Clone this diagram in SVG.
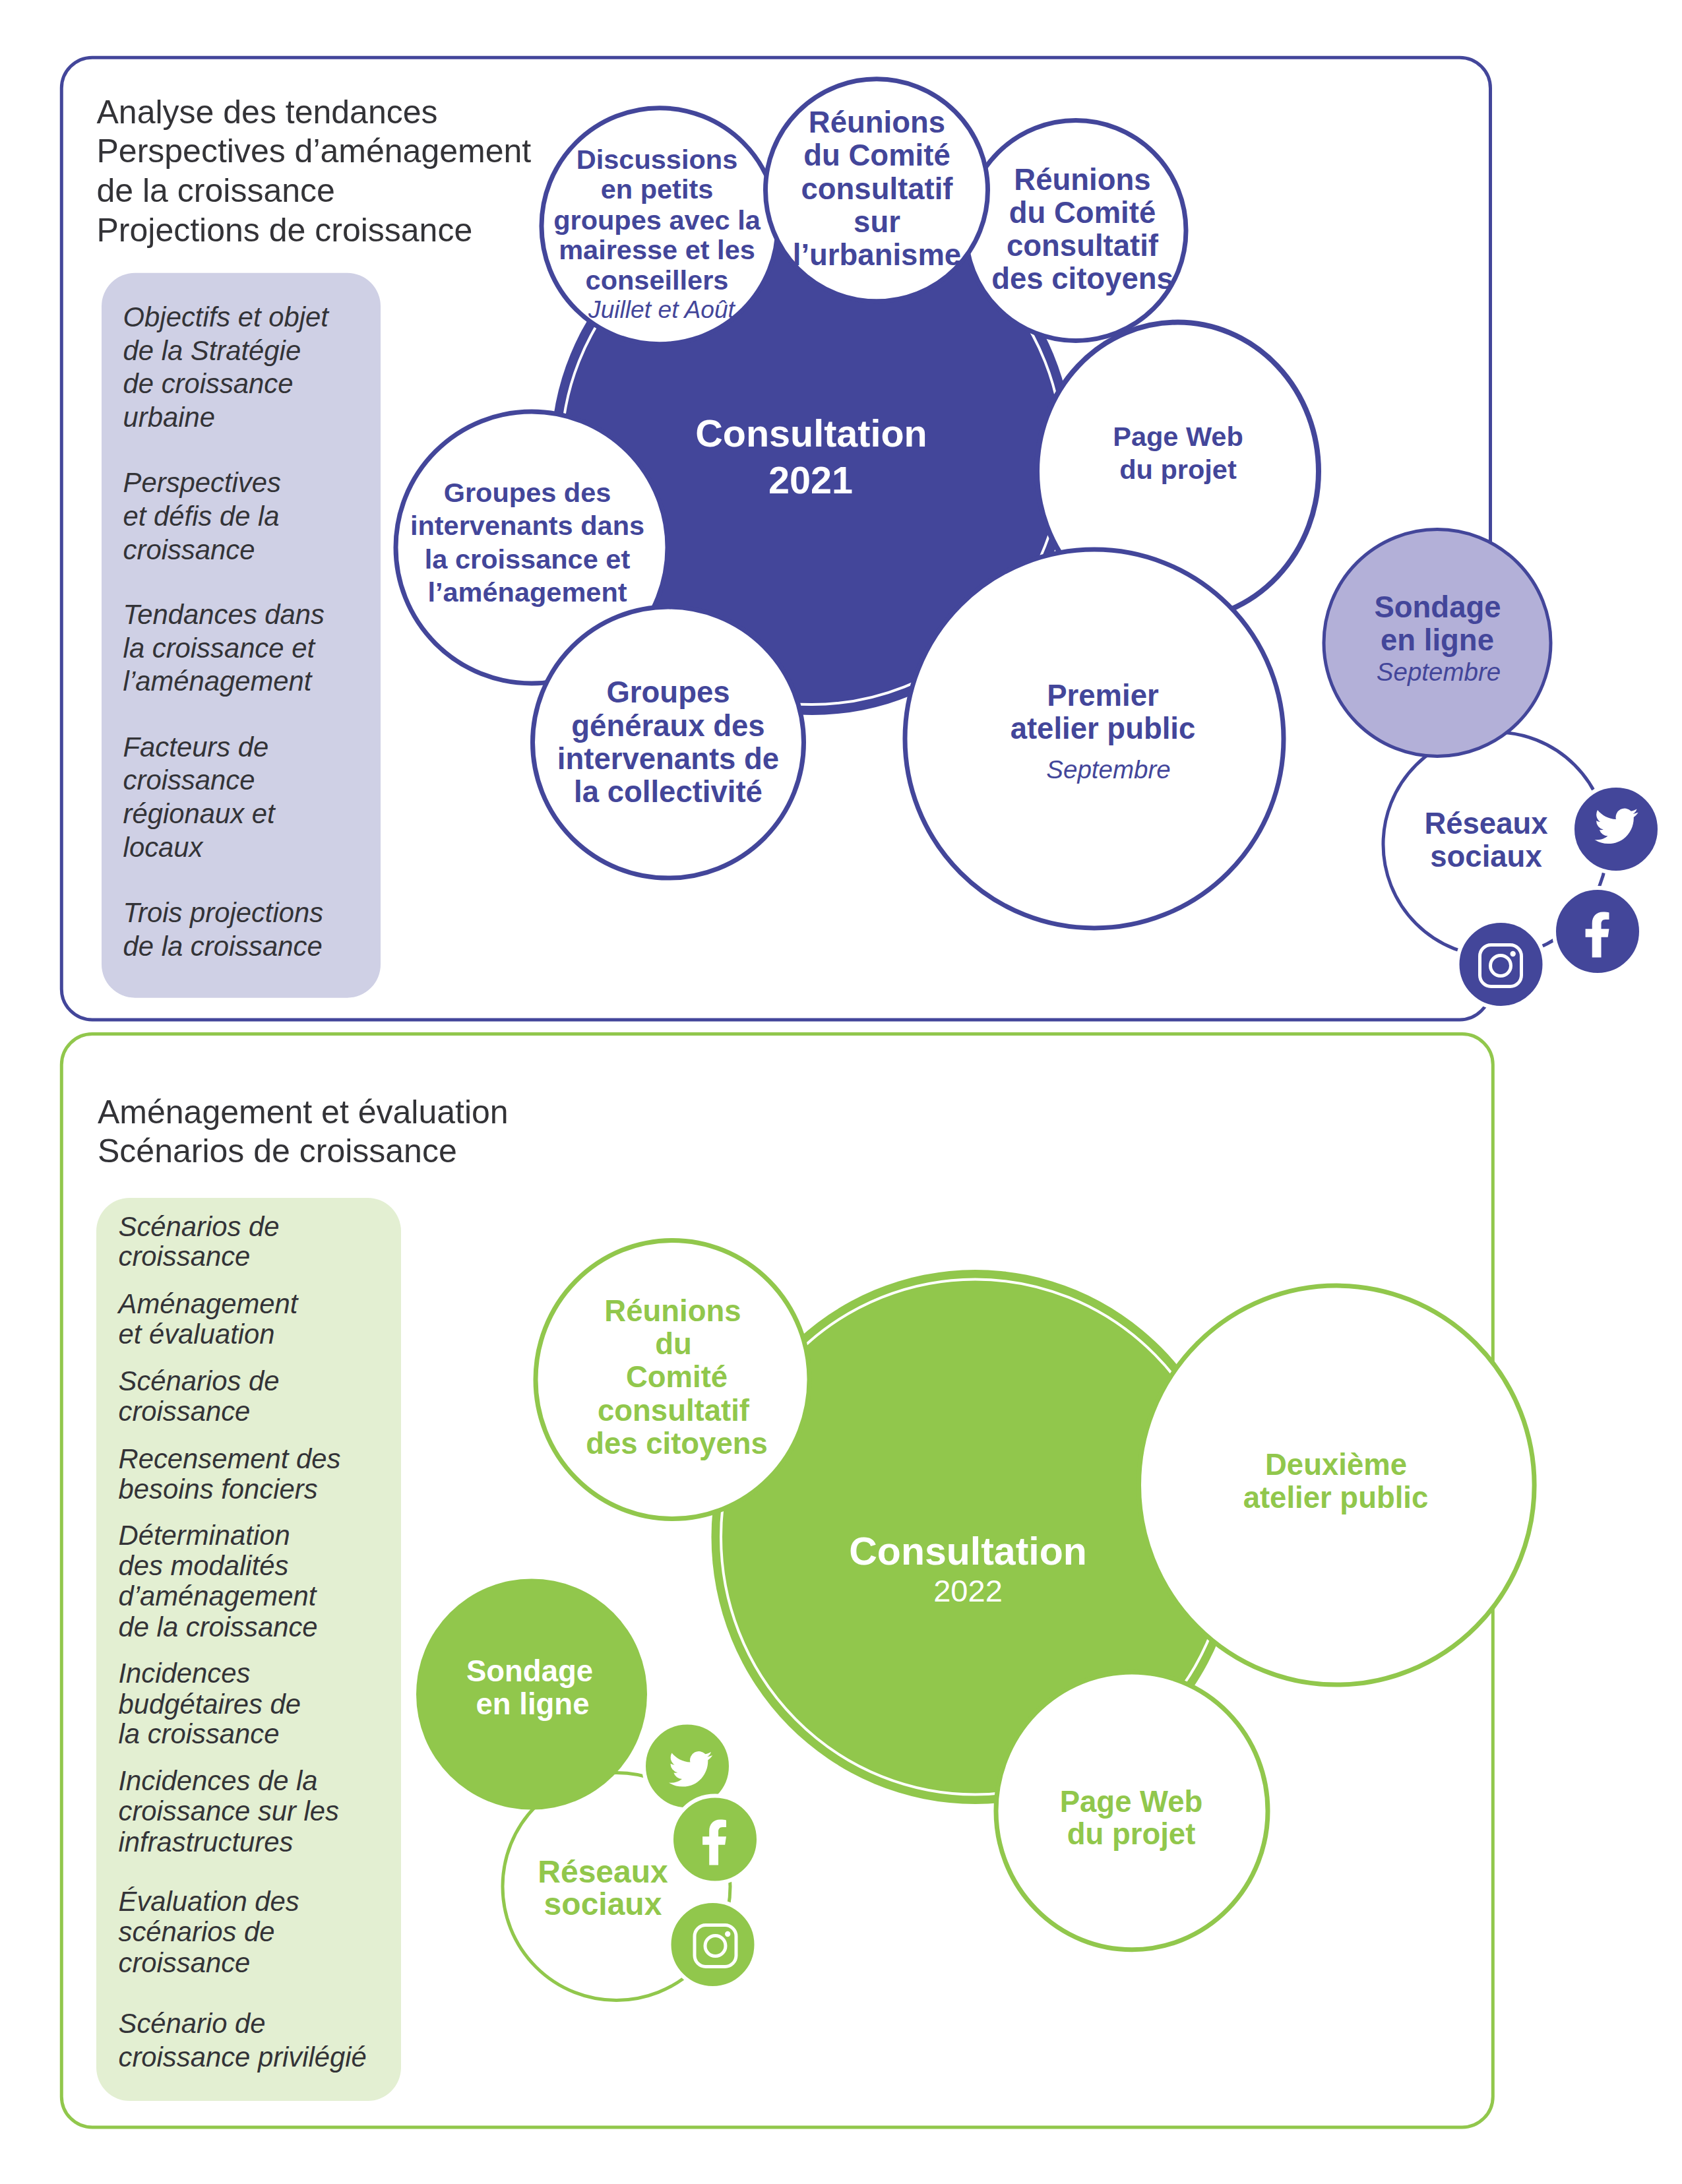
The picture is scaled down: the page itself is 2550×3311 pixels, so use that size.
<svg xmlns="http://www.w3.org/2000/svg" width="2550" height="3311" viewBox="0 0 2550 3311">
<style>
text{font-family:"Liberation Sans",Arial,sans-serif}
.m{text-anchor:middle}
.b{font-weight:700}
.i{font-style:italic}
.bl{fill:#43469a}
.gr{fill:#91c74c}
.w{fill:#fff}
.d{fill:#333337}
.h{font-size:50px}
.l{font-size:41.800px;font-style:italic}
.f41{font-size:41.500px;font-weight:700;text-anchor:middle}
.f45{font-size:45.500px;font-weight:700;text-anchor:middle}
.cb{fill:#fff;stroke:#43469a;stroke-width:7}
.cg{fill:#fff;stroke:#91c74c;stroke-width:7}
.hb{fill:#43469a;stroke:#fff;stroke-width:6}
.hg{fill:#91c74c;stroke:#fff;stroke-width:6}
</style>
<defs>
<g id="tw"><path fill="#fff" transform="translate(-33,-32.700) scale(2.750)" d="M23.953 4.57a10 10 0 01-2.825.775 4.958 4.958 0 002.163-2.723c-.951.555-2.005.959-3.127 1.184a4.92 4.92 0 00-8.384 4.482C7.69 8.095 4.067 6.13 1.64 3.162a4.822 4.822 0 00-.666 2.475c0 1.71.87 3.213 2.188 4.096a4.904 4.904 0 01-2.228-.616v.06a4.923 4.923 0 003.946 4.827 4.996 4.996 0 01-2.212.085 4.936 4.936 0 004.604 3.417 9.867 9.867 0 01-6.102 2.105c-.39 0-.779-.023-1.17-.067a13.995 13.995 0 007.557 2.209c9.053 0 13.998-7.496 13.998-13.985 0-.21 0-.42-.015-.63A9.935 9.935 0 0024 4.59z"/></g>
<g id="fb"><path fill="#fff" transform="scale(.92,.96)" d="M6 36V4H17L19-9H6V-17C6-21 8-24 13-24H19V-35C17-35.500 13-36 9-36C-2-36-9-29-9-18V-9H-20V4H-9V36Z"/></g>
<g id="ig"><rect x="-31.500" y="-31.500" width="63" height="63" rx="17" fill="none" stroke="#fff" stroke-width="5"/><circle r="15.500" fill="none" stroke="#fff" stroke-width="5"/><circle cx="18.700" cy="-18" r="4.200" fill="#fff"/></g>
</defs>
<rect width="2550" height="3311" fill="#fff"/>

<g id="panel-2021">
<rect x="93.300" y="87.200" width="2166.200" height="1458.800" rx="46.600" fill="#fff" stroke="#43469a" stroke-width="5"/>
<text class="h d"><tspan x="146.500" y="186.500">Analyse des tendances</tspan><tspan x="146.500" y="245.500">Perspectives d’aménagement</tspan><tspan x="146.500" y="306">de la croissance</tspan><tspan x="146.500" y="366">Projections de croissance</tspan></text>
</g>
<g id="liste-2021">
<rect x="154" y="413.700" width="423" height="1099" rx="50.700" fill="#cfd0e5"/>
<text class="l d"><tspan x="186.600" y="495">Objectifs et objet</tspan><tspan x="186.600" y="545.500">de la Stratégie</tspan><tspan x="186.600" y="596">de croissance</tspan><tspan x="186.600" y="647">urbaine</tspan><tspan x="186.600" y="746">Perspectives</tspan><tspan x="186.600" y="797">et défis de la</tspan><tspan x="186.600" y="847.500">croissance</tspan><tspan x="186.600" y="946">Tendances dans</tspan><tspan x="186.600" y="996.700">la croissance et</tspan><tspan x="186.600" y="1047.400">l’aménagement</tspan><tspan x="186.600" y="1146.700">Facteurs de</tspan><tspan x="186.600" y="1197.400">croissance</tspan><tspan x="186.600" y="1248">régionaux et</tspan><tspan x="186.600" y="1298.800">locaux</tspan><tspan x="186.600" y="1398">Trois projections</tspan><tspan x="186.600" y="1449">de la croissance</tspan></text>
</g>
<g id="consultation-2021">
<circle cx="1231" cy="688" r="396" fill="#43469a"/>
<circle cx="1231" cy="688" r="380" fill="none" stroke="#fff" stroke-width="4"/>
<text class="m b w" font-size="57.500"><tspan x="1230" y="676.500">Consultation</tspan><tspan x="1229" y="748">2021</tspan></text>
</g>
<g id="comite-citoyens-2021">
<circle class="cb" cx="1631" cy="349.500" r="167"/>
<text class="f45 bl"><tspan x="1641" y="288">Réunions</tspan><tspan x="1641" y="338">du Comité</tspan><tspan x="1641" y="388">consultatif</tspan><tspan x="1641" y="438">des citoyens</tspan></text>
</g>
<g id="page-web-2021">
<ellipse class="cb" style="stroke-width:8" cx="1785.500" cy="714.500" rx="213.500" ry="226"/>
<text class="f41 bl"><tspan x="1786" y="675.500">Page Web</tspan><tspan x="1786" y="725.500">du projet</tspan></text>
</g>
<g id="discussions">
<circle class="cb" cx="1000" cy="342.700" r="179"/>
<text class="f41 bl"><tspan x="996" y="256">Discussions</tspan><tspan x="996" y="301">en petits</tspan><tspan x="996" y="347.500">groupes avec la</tspan><tspan x="996" y="393">mairesse et les</tspan><tspan x="996" y="439">conseillers</tspan></text>
<text class="m i bl" x="1003" y="481.500" font-size="37.200">Juillet et Août</text>
</g>
<g id="comite-urbanisme">
<circle class="cb" cx="1329" cy="288.300" r="168.500"/>
<text class="f45 bl"><tspan x="1329.500" y="201">Réunions</tspan><tspan x="1329.500" y="251">du Comité</tspan><tspan x="1329.500" y="302">consultatif</tspan><tspan x="1329.500" y="352">sur</tspan><tspan x="1329.500" y="402">l’urbanisme</tspan></text>
</g>
<g id="groupes-intervenants">
<circle class="cb" cx="806" cy="830" r="206"/>
<text class="f41 bl"><tspan x="799.500" y="761">Groupes des</tspan><tspan x="799.500" y="811">intervenants dans</tspan><tspan x="799.500" y="862">la croissance et</tspan><tspan x="799.500" y="912">l’aménagement</tspan></text>
</g>
<g id="groupes-generaux">
<circle class="cb" cx="1013" cy="1125.600" r="205.500"/>
<text class="f45 bl"><tspan x="1013" y="1064.500">Groupes</tspan><tspan x="1013" y="1115.500">généraux des</tspan><tspan x="1013" y="1165.500">intervenants de</tspan><tspan x="1013" y="1216">la collectivité</tspan></text>
</g>
<g id="premier-atelier">
<circle class="cb" cx="1659" cy="1120" r="287"/>
<text class="f45 bl"><tspan x="1672" y="1070">Premier</tspan><tspan x="1672" y="1120">atelier public</tspan></text>
<text class="m i bl" x="1680.500" y="1180" font-size="38.500">Septembre</text>
</g>
<g id="reseaux-2021">
<circle cx="2267" cy="1280" r="170" fill="#fff" stroke="#43469a" stroke-width="5"/>
<text class="f45 bl"><tspan x="2253" y="1264">Réseaux</tspan><tspan x="2253" y="1314">sociaux</tspan></text>
</g>
<g id="sondage-2021">
<circle cx="2179" cy="974.500" r="172" fill="#b3b0d8" stroke="#43469a" stroke-width="5"/>
<text class="f45 bl"><tspan x="2179.500" y="936">Sondage</tspan><tspan x="2179" y="986">en ligne</tspan></text>
<text class="m i bl" x="2181" y="1032" font-size="38.500">Septembre</text>
</g>
<g id="twitter-2021"><circle class="hb" cx="2450" cy="1257" r="66"/><use href="#tw" x="2450.500" y="1252"/></g>
<g id="facebook-2021"><circle class="hb" cx="2422" cy="1412" r="66"/><use href="#fb" x="2422" y="1417"/></g>
<g id="instagram-2021"><circle class="hb" cx="2275.500" cy="1462" r="66"/><use href="#ig" x="2275" y="1464"/></g>

<g id="panel-2022">
<rect x="93.300" y="1567.500" width="2170" height="1657.500" rx="46.600" fill="#fff" stroke="#91c74c" stroke-width="5"/>
<text class="h d"><tspan x="148" y="1702.500">Aménagement et évaluation</tspan><tspan x="148" y="1762">Scénarios de croissance</tspan></text>
</g>
<g id="liste-2022">
<rect x="146" y="1816" width="462" height="1369" rx="50.700" fill="#e3efd2"/>
<text class="l d"><tspan x="179.500" y="1873.700">Scénarios de</tspan><tspan x="179.500" y="1919.300">croissance</tspan><tspan x="179.500" y="1991.300">Aménagement</tspan><tspan x="179.500" y="2036.900">et évaluation</tspan><tspan x="179.500" y="2107.900">Scénarios de</tspan><tspan x="179.500" y="2153.500">croissance</tspan><tspan x="179.500" y="2225.500">Recensement des</tspan><tspan x="179.500" y="2272.200">besoins fonciers</tspan><tspan x="179.500" y="2342">Détermination</tspan><tspan x="179.500" y="2387.700">des modalités</tspan><tspan x="179.500" y="2434.400">d’aménagement</tspan><tspan x="179.500" y="2481">de la croissance</tspan><tspan x="179.500" y="2551">Incidences</tspan><tspan x="179.500" y="2597.600">budgétaires de</tspan><tspan x="179.500" y="2643.200">la croissance</tspan><tspan x="179.500" y="2714.200">Incidences de la</tspan><tspan x="179.500" y="2759.800">croissance sur les</tspan><tspan x="179.500" y="2806.500">infrastructures</tspan><tspan x="179.500" y="2896.700">Évaluation des</tspan><tspan x="179.500" y="2943.400">scénarios de</tspan><tspan x="179.500" y="2990">croissance</tspan><tspan x="179.500" y="3082.300">Scénario de</tspan><tspan x="179.500" y="3133">croissance privilégié</tspan></text>
</g>
<g id="consultation-2022">
<ellipse cx="1478.500" cy="2330" rx="400" ry="405" fill="#91c74c"/>
<ellipse cx="1478.500" cy="2330" rx="385.500" ry="390.500" fill="none" stroke="#fff" stroke-width="4"/>
<text class="m b w" x="1467.500" y="2371.700" font-size="59">Consultation</text>
<text class="m w" x="1467.500" y="2428" font-size="47">2022</text>
</g>
<g id="comite-citoyens-2022">
<ellipse class="cg" cx="1019.500" cy="2091.500" rx="207.500" ry="211"/>
<text class="f45 gr"><tspan x="1020" y="2003">Réunions</tspan><tspan x="1021" y="2052.700">du</tspan><tspan x="1026" y="2102.500">Comité</tspan><tspan x="1021" y="2153.500">consultatif</tspan><tspan x="1026" y="2204">des citoyens</tspan></text>
</g>
<g id="deuxieme-atelier">
<ellipse class="cg" cx="2026.300" cy="2251.600" rx="299.800" ry="302.500"/>
<text class="f45 gr"><tspan x="2025.500" y="2236.300">Deuxième</tspan><tspan x="2025" y="2286">atelier public</tspan></text>
</g>
<g id="page-web-2022">
<ellipse class="cg" cx="1716" cy="2745.400" rx="206" ry="210.400"/>
<text class="f45 gr"><tspan x="1715" y="2746.600">Page Web</tspan><tspan x="1715" y="2796.400">du projet</tspan></text>
</g>
<g id="reseaux-2022">
<circle cx="934.500" cy="2860" r="172.500" fill="#fff" stroke="#91c74c" stroke-width="5"/>
<text class="m b gr" font-size="48"><tspan x="914" y="2853.700">Réseaux</tspan><tspan x="914" y="2903.300">sociaux</tspan></text>
</g>
<g id="sondage-2022">
<circle cx="806" cy="2568.500" r="175" fill="#91c74c"/>
<text class="f45 w"><tspan x="803" y="2549">Sondage</tspan><tspan x="807.500" y="2599.300">en ligne</tspan></text>
</g>
<g id="twitter-2022"><circle class="hg" cx="1042" cy="2677.500" r="66"/><use href="#tw" x="1047" y="2681.500"/></g>
<g id="facebook-2022"><circle class="hg" cx="1084" cy="2788.500" r="66"/><use href="#fb" x="1083.500" y="2793"/></g>
<g id="instagram-2022"><circle class="hg" cx="1080.500" cy="2948" r="66"/><use href="#ig" x="1084.500" y="2950"/></g>
</svg>
